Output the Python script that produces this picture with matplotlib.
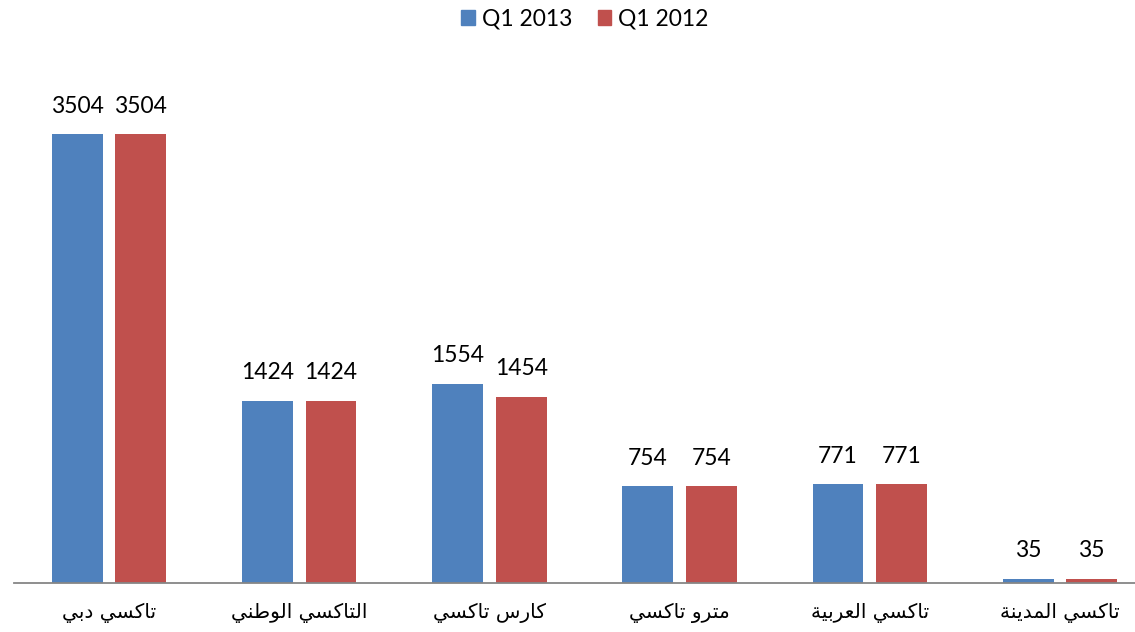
import matplotlib.pyplot as plt
import numpy as np
from matplotlib.patches import Patch

categories = ['تاكسي دبي', 'التاكسي الوطني', 'كارس تاكسي', 'مترو تاكسي', 'تاكسي العربية', 'تاكسي المدينة']
q1_2013 = [3504, 1424, 1554, 754, 771, 35]
q1_2012 = [3504, 1424, 1454, 754, 771, 35]
series_names = ['Q1 2013', 'Q1 2012']
colors = ['#4F81BD', '#C0504D']

# matplotlib has no Arabic shaping, so pick presentation forms by hand
# (isolated, final, initial, medial)
forms = {
    'ا': ('\uFE8D', '\uFE8E', None, None),
    'ب': ('\uFE8F', '\uFE90', '\uFE91', '\uFE92'),
    'ة': ('\uFE93', '\uFE94', None, None),
    'ت': ('\uFE95', '\uFE96', '\uFE97', '\uFE98'),
    'د': ('\uFEA9', '\uFEAA', None, None),
    'ر': ('\uFEAD', '\uFEAE', None, None),
    'س': ('\uFEB1', '\uFEB2', '\uFEB3', '\uFEB4'),
    'ط': ('\uFEC1', '\uFEC2', '\uFEC3', '\uFEC4'),
    'ع': ('\uFEC9', '\uFECA', '\uFECB', '\uFECC'),
    'ك': ('\uFED9', '\uFEDA', '\uFEDB', '\uFEDC'),
    'ل': ('\uFEDD', '\uFEDE', '\uFEDF', '\uFEE0'),
    'م': ('\uFEE1', '\uFEE2', '\uFEE3', '\uFEE4'),
    'ن': ('\uFEE5', '\uFEE6', '\uFEE7', '\uFEE8'),
    'و': ('\uFEED', '\uFEEE', None, None),
    'ي': ('\uFEF1', '\uFEF2', '\uFEF3', '\uFEF4'),
}


def shape(text):
    out = []
    for i, c in enumerate(text):
        if c not in forms:
            out.append(c)
            continue
        prev = text[i - 1] if i > 0 else ''
        nxt = text[i + 1] if i + 1 < len(text) else ''
        join_prev = prev in forms and forms[prev][2] is not None
        join_next = forms[c][2] is not None and nxt in forms
        iso, fin, ini, med = forms[c]
        if join_prev and join_next:
            out.append(med)
        elif join_prev:
            out.append(fin)
        elif join_next:
            out.append(ini)
        else:
            out.append(iso)
    return ''.join(out)[::-1]


W, H = 1135, 632
fig = plt.figure(figsize=(W / 100, H / 100), dpi=100)
ax = fig.add_axes([14 / W, 1 - 583 / H, 1141 / W, 512.6 / H])

x = np.arange(len(categories))
bw = 0.268
off = 0.167
num_font = ['Lato', 'DejaVu Sans']
for vals, dx, col in [(q1_2013, -off, colors[0]), (q1_2012, off, colors[1])]:
    bars = ax.bar(x + dx, vals, bw, color=col, zorder=2)
    for b, v in zip(bars, vals):
        ax.annotate(str(v), (b.get_x() + b.get_width() / 2, v),
                    xytext=(0, 12.5), textcoords='offset points',
                    ha='center', va='bottom', fontsize=16.5, family=num_font)

ax.set_xlim(-0.5, len(categories) - 0.5)
ax.set_ylim(0, 4000)
ax.set_yticks([])
ax.set_xticks(x)
ax.set_xticklabels([shape(c) for c in categories], fontsize=14.5, family=['DejaVu Sans'])
ax.tick_params(axis='x', length=0, pad=14)
for s in ['top', 'left', 'right']:
    ax.spines[s].set_visible(False)
ax.spines['bottom'].set_color('#868686')
ax.spines['bottom'].set_linewidth(1.3)

handles = [Patch(color=c) for c in colors]
fig.legend(handles, series_names, loc='upper center', bbox_to_anchor=(585 / W, 1 + 12 / H),
           ncol=2, frameon=False, prop={'family': num_font, 'size': 16.5},
           handlelength=0.6, handleheight=0.6, handletextpad=0.3, columnspacing=1.1)

fig.savefig('out.png', dpi=100)
